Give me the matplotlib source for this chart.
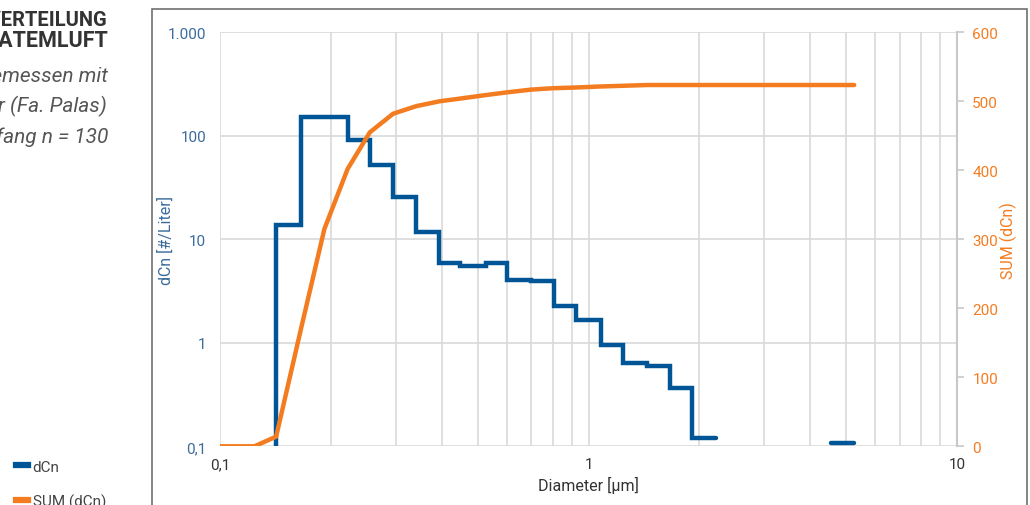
import matplotlib
matplotlib.use('Agg')
import matplotlib.pyplot as plt
from matplotlib.lines import Line2D
from matplotlib.patches import Rectangle
from matplotlib.ticker import FixedLocator, FixedFormatter, LogLocator, NullFormatter

plt.rcParams['font.family'] = ['Roboto', 'DejaVu Sans']

# bin edges of the size classes (um) and counts per class
bin_edges = [0.142, 0.166, 0.192, 0.222, 0.255, 0.295, 0.341, 0.394, 0.449,
             0.526, 0.602, 0.700, 0.806, 0.924, 1.080, 1.242, 1.443, 1.663,
             1.905, 2.218]
dcn = [13.7, 151, 151, 91.7, 52.6, 25.8, 11.7, 5.86, 5.56, 5.90, 4.07, 3.95,
       2.28, 1.67, 0.953, 0.638, 0.601, 0.366, 0.120]
# isolated class at the large end
tail_edges = [4.54, 5.26]
tail_dcn = [0.107, 0.107]

# cumulative curve
sum_x = [0.1, 0.124, 0.142, 0.166, 0.192, 0.222, 0.255, 0.295, 0.341, 0.394,
         0.449, 0.526, 0.602, 0.700, 0.806, 0.924, 1.080, 1.242, 1.443, 5.26]
sum_y = [0, 0, 14, 171, 315, 402, 455, 482, 493, 500,
         504, 509, 513, 517, 519, 520, 521.5, 522.5, 523.6, 523.6]

blue = '#005596'
blue_txt = '#3b6c9c'
orange = '#f47c20'
grid_c = '#d9d9d9'
dark = '#333333'

fig = plt.figure(figsize=(10.3, 5.06), dpi=100)
ax = fig.add_axes([220 / 1030, (506 - 447.3) / 506, 737 / 1030, 414 / 506])
ax2 = ax.twinx()

# frame around the chart area
fig.add_artist(Rectangle((152 / 1030, -0.1), (1027 - 152) / 1030, 1.1 - 10 / 506,
                         transform=fig.transFigure, fill=False,
                         edgecolor='#707070', lw=1.2))

# step line for dCn
xs = [bin_edges[0]] + bin_edges
ys = [0.1] + dcn + [dcn[-1]]
ax.step(xs, ys, where='post', color=blue, lw=3.2, solid_capstyle='round',
        solid_joinstyle='miter')
ax.plot(tail_edges, tail_dcn, color=blue, lw=3.2, solid_capstyle='round')

ax2.plot(sum_x, sum_y, color=orange, lw=3.2, solid_capstyle='round',
         solid_joinstyle='round')

ax.set_xscale('log')
ax.set_yscale('log')
ax.set_xlim(0.1, 10)
ax.set_ylim(0.1, 1000)
ax2.set_ylim(0, 600)

ax.xaxis.set_major_locator(FixedLocator([0.1, 1, 10]))
ax.xaxis.set_major_formatter(FixedFormatter(['0,1', '1', '10']))
ax.xaxis.set_minor_locator(LogLocator(base=10, subs=range(2, 10)))
ax.xaxis.set_minor_formatter(NullFormatter())
ax.yaxis.set_major_locator(FixedLocator([0.1, 1, 10, 100, 1000]))
ax.yaxis.set_major_formatter(FixedFormatter(['0,1', '1', '10', '100', '1.000']))
ax.yaxis.set_minor_locator(FixedLocator([]))

ax.grid(True, which='both', axis='x', color=grid_c, lw=1.2)
ax.grid(True, which='major', axis='y', color=grid_c, lw=1.2)
ax.set_axisbelow(True)

for a in (ax, ax2):
    for s in a.spines.values():
        s.set_visible(False)
ax2.spines['right'].set_visible(True)
ax2.spines['right'].set_color('#c8c8c8')
ax2.spines['right'].set_linewidth(1.5)

ax.tick_params(axis='both', which='both', length=0)
ax.tick_params(axis='x', labelsize=11, labelcolor=dark, pad=8)
ax.tick_params(axis='y', labelsize=11, labelcolor=blue_txt, pad=10)
ax2.set_yticks([0, 100, 200, 300, 400, 500, 600])
ax2.tick_params(axis='y', labelsize=11, labelcolor=orange, color='#c8c8c8',
                length=5, width=1.2, pad=6)

ax.set_xlabel('Diameter [µm]', fontsize=11.5, color=dark, labelpad=3)
ax.set_ylabel('dCn [#/Liter]', fontsize=11.5, color=blue_txt)
ax.yaxis.set_label_coords((174 - 220) / 737, 0.5)
ax2.set_ylabel('SUM (dCn)', fontsize=11.5, color=orange)
ax2.yaxis.set_label_coords((1000 - 220) / 737, 0.5)

# heading and note on the left, partly outside the picture
fig.text(108 / 1030, 1 - 20 / 506, 'PARTIKELGRÖSSENVERTEILUNG', ha='right',
         va='center', fontsize=14.5, fontweight='bold', color=dark)
fig.text(108 / 1030, 1 - 41 / 506, 'IN DER ATEMLUFT', ha='right',
         va='center', fontsize=15.5, fontweight='bold', color=dark)
fig.text(108 / 1030, 1 - 77 / 506, 'gemessen mit', ha='right', va='center',
         fontsize=15, style='italic', color='#555555')
fig.text(108 / 1030, 1 - 106 / 506, 'Aerosolspektrometer (Fa. Palas)',
         ha='right', va='center', fontsize=15, style='italic',
         color='#555555')
fig.text(108 / 1030, 1 - 137 / 506, 'Stichprobenumfang n = 130', ha='right',
         va='center', fontsize=15, style='italic', color='#555555')

handles = [Line2D([], [], color=blue, lw=4.5), Line2D([], [], color=orange, lw=4.5)]
fig.legend(handles, ['dCn', 'SUM (dCn)'], loc='upper left',
           bbox_to_anchor=(2 / 1030, 1 - 447 / 506), frameon=False,
           fontsize=11, handlelength=0.8, handletextpad=0.3,
           labelspacing=1.3, labelcolor='#444444')

fig.savefig('out.png', dpi=100)
